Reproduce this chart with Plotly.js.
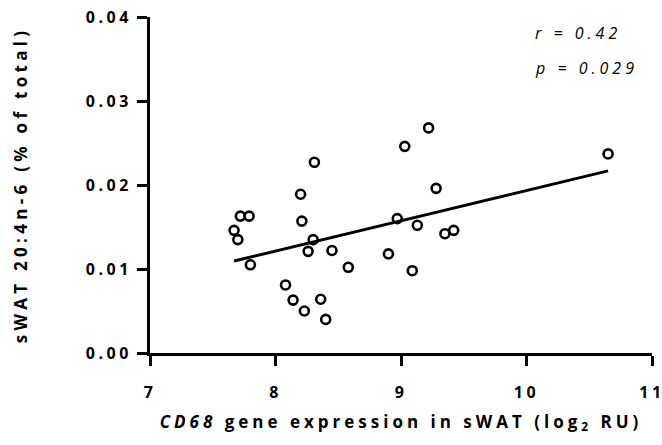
<!DOCTYPE html>
<html>
<head>
<meta charset="utf-8">
<script src="https://cdn.plot.ly/plotly-3.0.1.min.js"></script>
<style>
  html, body { margin: 0; padding: 0; background: #fff; }
  #chart { width: 662px; height: 445px; }
  .xtick text, .ytick text { letter-spacing: 3.5px; }
  .g-xtitle text { letter-spacing: 4px; }
  .g-ytitle text { letter-spacing: 4.3px; }
  .annotation-text { letter-spacing: 4px; }
</style>
</head>
<body>
<div id="chart"></div>
<script>
// CD68 gene expression (log2 RU)
const cd68 = [7.67, 7.70, 7.72, 7.79, 7.80, 8.20, 8.21, 8.31, 8.30, 8.26, 8.45, 8.58, 8.90,
              8.08, 8.14, 8.23, 8.36, 8.40, 9.22, 9.03, 9.28, 8.97, 9.13, 9.35, 9.42, 9.09, 10.65];
// sWAT 20:4n-6 (% of total)
const aa = [0.0146, 0.0135, 0.0163, 0.0163, 0.0105, 0.0189, 0.0157, 0.0227, 0.0135, 0.0121, 0.0122, 0.0102, 0.0118,
            0.0081, 0.0063, 0.0050, 0.0064, 0.0040, 0.0268, 0.0246, 0.0196, 0.0160, 0.0152, 0.0142, 0.0146, 0.0098, 0.0237];
const xTicks = [7, 8, 9, 10, 11];
const yTicks = [0.00, 0.01, 0.02, 0.03, 0.04];
const statLabels = ['r = 0.42', 'p = 0.029'];

// least-squares regression line over the data range
const n = cd68.length;
const mx = cd68.reduce((a, b) => a + b, 0) / n;
const my = aa.reduce((a, b) => a + b, 0) / n;
let sxy = 0, sxx = 0;
for (let i = 0; i < n; i++) { sxy += (cd68[i] - mx) * (aa[i] - my); sxx += (cd68[i] - mx) ** 2; }
const slope = sxy / sxx, icpt = my - slope * mx;
const xmin = Math.min(...cd68), xmax = Math.max(...cd68);

const fontFam = '"Open Sans", "DejaVu Sans", sans-serif';

const traces = [
  {
    x: [xmin, xmax], y: [icpt + slope * xmin, icpt + slope * xmax],
    mode: 'lines', line: {color: '#000', width: 3}, hoverinfo: 'skip', showlegend: false
  },
  {
    x: cd68, y: aa, mode: 'markers', showlegend: false,
    marker: {symbol: 'circle-open', size: 9, color: '#000', line: {color: '#000', width: 2.6}}
  }
];

const axisCommon = {
  showgrid: false, zeroline: false, showline: true, linecolor: '#000', linewidth: 3,
  ticks: 'outside', ticklen: 10, tickwidth: 3, tickcolor: '#000',
  ticklabeloverflow: 'allow',
  tickfont: {family: fontFam, size: 16, color: '#000', weight: 'bold'}
};

const layout = {
  width: 662, height: 445,
  margin: {l: 150, r: 10, t: 17, b: 92},
  paper_bgcolor: '#fff', plot_bgcolor: '#fff',
  font: {family: fontFam, color: '#000'},
  xaxis: Object.assign({}, axisCommon, {
    range: [7, 11], tickvals: xTicks, ticktext: xTicks.map(String),
    ticklabelstandoff: 13,
    title: {text: '<i>CD68</i> gene expression in sWAT (log<sub>2</sub> RU)',
            font: {family: fontFam, size: 17, color: '#000', weight: 'bold'}, standoff: 14}
  }),
  yaxis: Object.assign({}, axisCommon, {
    range: [0, 0.04], tickvals: yTicks, ticktext: yTicks.map(v => v.toFixed(2)),
    ticklabelstandoff: 2,
    title: {text: 'sWAT 20:4n-6 (% of total)',
            font: {family: fontFam, size: 17, color: '#000', weight: 'bold'}, standoff: 54}
  }),
  annotations: [
    {xref: 'paper', yref: 'paper', x: 0.763, y: 0.952, xanchor: 'left', yanchor: 'middle',
     text: '<i>' + statLabels[0] + '</i>', showarrow: false,
     font: {family: fontFam, size: 16, color: '#000'}},
    {xref: 'paper', yref: 'paper', x: 0.763, y: 0.848, xanchor: 'left', yanchor: 'middle',
     text: '<i>' + statLabels[1] + '</i>', showarrow: false,
     font: {family: fontFam, size: 16, color: '#000'}}
  ]
};

Plotly.newPlot('chart', traces, layout, {displayModeBar: false, staticPlot: true});
</script>
</body>
</html>
